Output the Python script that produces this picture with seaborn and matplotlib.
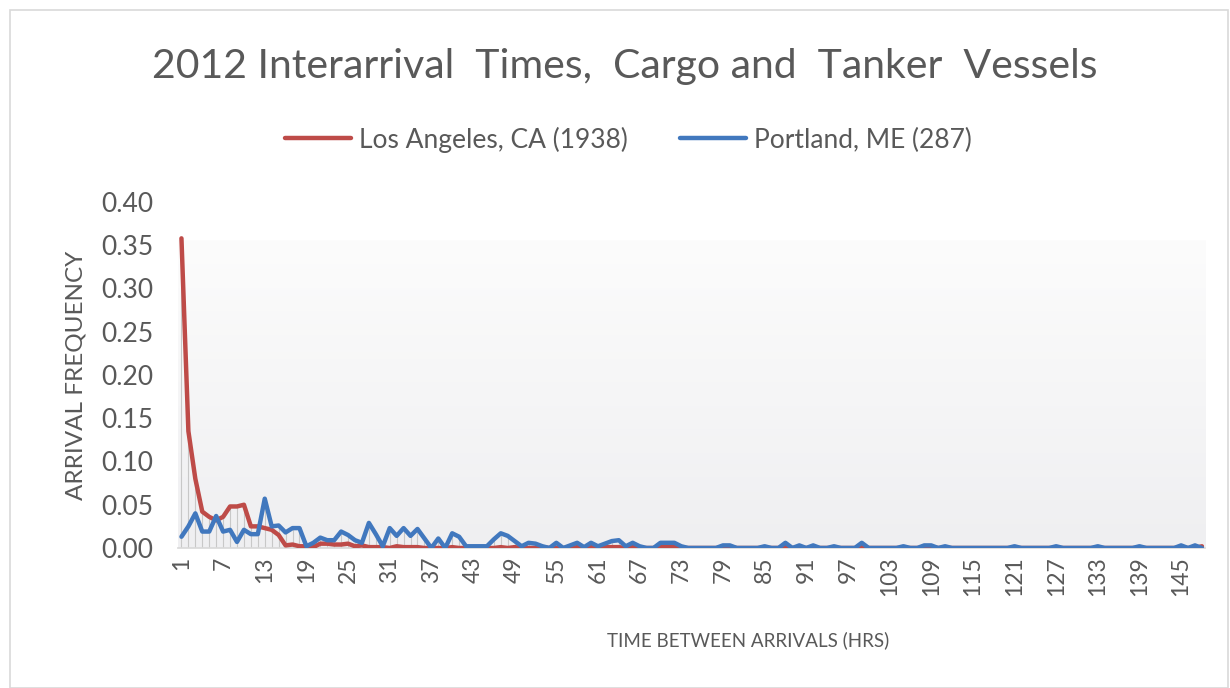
import numpy as np
import pandas as pd
import matplotlib
matplotlib.use("Agg")
import matplotlib.pyplot as plt
import seaborn as sns
from matplotlib.patches import Rectangle

# hours between arrivals, bins 1..148
hours = list(range(1, 149))

# Los Angeles, CA (1938)
la = [0.358, 0.135, 0.080, 0.042, 0.036, 0.032, 0.036, 0.048, 0.048, 0.050,
      0.025, 0.025, 0.023, 0.021, 0.015, 0.003, 0.004, 0.002, 0.002, 0.001,
      0.005, 0.005, 0.004, 0.004, 0.005, 0.002, 0.003, 0.001, 0.001, 0.001,
      0.000, 0.002, 0.001, 0.001, 0.001, 0.000, 0.000, 0.000, 0.000, 0.001,
      0.000, 0.000, 0.000, 0.001, 0.000, 0.000, 0.001, 0.000, 0.001, 0.000,
      0.000, 0.000, 0.001, 0.000, 0.000, 0.000, 0.000, 0.001, 0.000, 0.001,
      0.000, 0.001, 0.001, 0.001, 0.000, 0.001, 0.000, 0.000, 0.000, 0.002,
      0.002, 0.002, 0.000, 0.000, 0.000, 0.000, 0.000, 0.000, 0.000, 0.001,
      0.000, 0.000, 0.000, 0.000, 0.000, 0.000, 0.000, 0.002, 0.000, 0.000,
      0.000, 0.000, 0.000, 0.000, 0.000, 0.000, 0.000, 0.000, 0.001, 0.000,
      0.000, 0.000, 0.000, 0.000, 0.000, 0.000, 0.000, 0.000, 0.001, 0.000,
      0.000, 0.000, 0.000, 0.000, 0.000, 0.000, 0.000, 0.000, 0.000, 0.000,
      0.000, 0.000, 0.000, 0.000, 0.000, 0.000, 0.000, 0.000, 0.000, 0.000,
      0.000, 0.000, 0.000, 0.000, 0.000, 0.000, 0.000, 0.000, 0.000, 0.000,
      0.000, 0.000, 0.000, 0.000, 0.000, 0.000, 0.000, 0.002]

# Portland, ME (287)
pm = [0.013, 0.025, 0.040, 0.019, 0.019, 0.037, 0.019, 0.021, 0.007, 0.021,
      0.016, 0.016, 0.057, 0.025, 0.026, 0.018, 0.023, 0.023, 0.002, 0.006,
      0.012, 0.009, 0.009, 0.019, 0.015, 0.009, 0.006, 0.029, 0.016, 0.002,
      0.023, 0.014, 0.023, 0.014, 0.022, 0.011, 0.000, 0.011, 0.000, 0.017,
      0.013, 0.002, 0.002, 0.002, 0.002, 0.010, 0.017, 0.014, 0.008, 0.002,
      0.006, 0.005, 0.002, 0.000, 0.006, 0.000, 0.003, 0.006, 0.001, 0.006,
      0.002, 0.005, 0.008, 0.009, 0.002, 0.006, 0.002, 0.000, 0.000, 0.006,
      0.006, 0.006, 0.002, 0.000, 0.000, 0.000, 0.000, 0.000, 0.003, 0.003,
      0.000, 0.000, 0.000, 0.000, 0.002, 0.000, 0.000, 0.006, 0.000, 0.003,
      0.000, 0.003, 0.000, 0.000, 0.002, 0.000, 0.000, 0.000, 0.006, 0.000,
      0.000, 0.000, 0.000, 0.000, 0.002, 0.000, 0.000, 0.003, 0.003, 0.000,
      0.002, 0.000, 0.000, 0.000, 0.000, 0.000, 0.000, 0.000, 0.000, 0.000,
      0.002, 0.000, 0.000, 0.000, 0.000, 0.000, 0.002, 0.000, 0.000, 0.000,
      0.000, 0.000, 0.002, 0.000, 0.000, 0.000, 0.000, 0.000, 0.002, 0.000,
      0.000, 0.000, 0.000, 0.000, 0.003, 0.000, 0.003, 0.000]

series = ["Los Angeles, CA (1938)", "Portland, ME (287)"]
colors = ["#BE4B48", "#4178BE"]
x_ticks = list(range(1, 149, 6))
y_ticks = [0.00, 0.05, 0.10, 0.15, 0.20, 0.25, 0.30, 0.35, 0.40]

df = pd.DataFrame({
    "hours": hours * 2,
    "freq": la + pm,
    "port": [series[0]] * len(la) + [series[1]] * len(pm),
})

sns.set_theme(style="white")
plt.rcParams["font.family"] = ["Lato", "DejaVu Sans"]
text_gray = "#595959"

fig = plt.figure(figsize=(12.3, 6.88), dpi=100)
fig.patches.append(Rectangle((0.008, 0.0), 0.99, 0.985, transform=fig.transFigure,
                             fill=False, edgecolor="#d9d9d9", lw=1.2))
ax = fig.add_axes([0.1447, 0.2035, 0.8353, 0.5029])

# gradient plot area like the Excel chart
grad = np.linspace(0, 1, 256).reshape(-1, 1)
ax.imshow(grad, extent=[0.5, 148.5, 0, 0.356], aspect="auto", origin="upper",
          cmap=matplotlib.colors.LinearSegmentedColormap.from_list(
              "bg", ["#fcfcfc", "#efeff1"]), zorder=0)

# drop lines from each point
tops = np.maximum(la, pm)
ax.vlines(hours, 0, tops, color="#c8c8c8", lw=0.8, zorder=1)

sns.lineplot(data=df, x="hours", y="freq", hue="port", palette=colors,
             linewidth=3.2, ax=ax, legend=False, zorder=3)

ax.set_xlim(0.5, 148.5)
ax.set_ylim(0, 0.40)
ax.set_xticks(x_ticks)
ax.set_xticklabels([str(t) for t in x_ticks], rotation=90, fontsize=16.5,
                   color=text_gray, va="top", ha="center")
ax.set_yticks(y_ticks)
ax.set_yticklabels([f"{v:.2f}" for v in y_ticks], fontsize=19, color=text_gray)
ax.tick_params(axis="x", length=0, pad=6)
ax.tick_params(axis="y", length=0, pad=18)
for s in ["top", "right", "left"]:
    ax.spines[s].set_visible(False)
ax.spines["bottom"].set_color("#d9d9d9")
ax.set_xlabel("")
ax.set_ylabel("ARRIVAL FREQUENCY", fontsize=17.5, color=text_gray, labelpad=10)
fig.text(0.608, 0.069, "TIME BETWEEN ARRIVALS (HRS)", fontsize=13.5,
         color=text_gray, ha="center", va="center")

fig.text(0.508, 0.904, "2012 Interarrival  Times,  Cargo and  Tanker  Vessels",
         fontsize=29.5, color=text_gray, ha="center", va="center")

handles = [plt.Line2D([], [], color=c, lw=3.2) for c in colors]
fig.legend(handles, series, loc="center", bbox_to_anchor=(0.511, 0.797), ncol=2,
           frameon=False, fontsize=19, labelcolor=text_gray, handlelength=2.5,
           handletextpad=0.3, columnspacing=2.0)

fig.savefig("out.png", dpi=100)
